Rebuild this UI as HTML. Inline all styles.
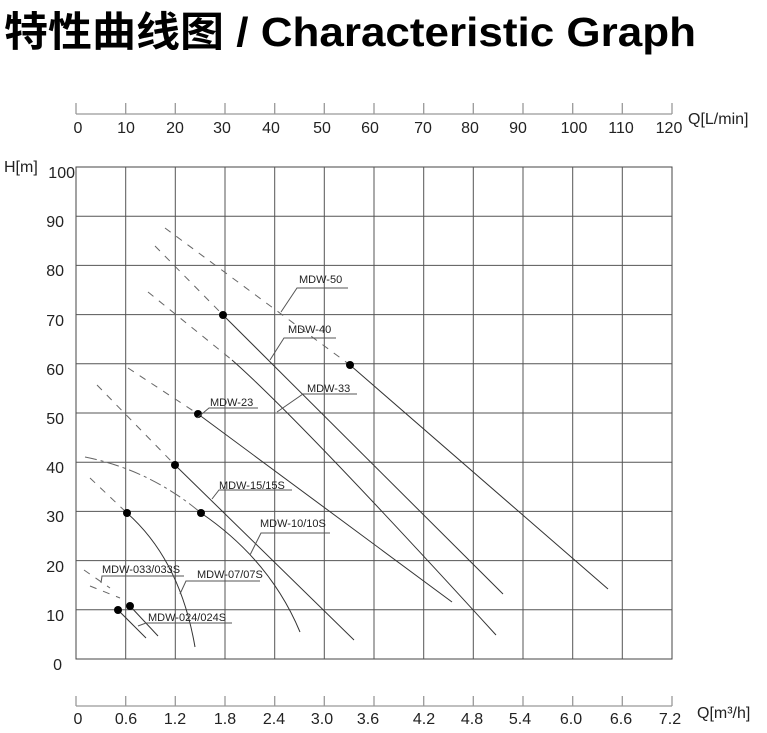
<!DOCTYPE html>
<html><head><meta charset="utf-8"><style>
body{margin:0;background:#fff;}
svg{display:block;}
</style></head><body>
<svg width="767" height="733" viewBox="0 0 767 733" xmlns="http://www.w3.org/2000/svg" font-family="'Liberation Sans','Noto Sans CJK SC',sans-serif">
<text x="4" y="46" font-size="41" font-weight="bold" fill="#000" textLength="692" lengthAdjust="spacingAndGlyphs">特性曲线图 / Characteristic Graph</text>
<g stroke="#aaa" stroke-width="1.5">
<line x1="76" y1="114" x2="672" y2="114"/>
<line x1="76" y1="706" x2="672" y2="706"/>
</g>
<g stroke="#999" stroke-width="1.3">
<line x1="76" y1="103" x2="76" y2="114"/><line x1="125.7" y1="103" x2="125.7" y2="114"/><line x1="175.3" y1="103" x2="175.3" y2="114"/><line x1="225" y1="103" x2="225" y2="114"/><line x1="274.7" y1="103" x2="274.7" y2="114"/><line x1="324.3" y1="103" x2="324.3" y2="114"/><line x1="374" y1="103" x2="374" y2="114"/><line x1="423.7" y1="103" x2="423.7" y2="114"/><line x1="473.3" y1="103" x2="473.3" y2="114"/><line x1="523" y1="103" x2="523" y2="114"/><line x1="572.7" y1="103" x2="572.7" y2="114"/><line x1="622.3" y1="103" x2="622.3" y2="114"/><line x1="672" y1="103" x2="672" y2="114"/>
<line x1="76" y1="696" x2="76" y2="706"/><line x1="125.7" y1="696" x2="125.7" y2="706"/><line x1="175.3" y1="696" x2="175.3" y2="706"/><line x1="225" y1="696" x2="225" y2="706"/><line x1="274.7" y1="696" x2="274.7" y2="706"/><line x1="324.3" y1="696" x2="324.3" y2="706"/><line x1="374" y1="696" x2="374" y2="706"/><line x1="423.7" y1="696" x2="423.7" y2="706"/><line x1="473.3" y1="696" x2="473.3" y2="706"/><line x1="523" y1="696" x2="523" y2="706"/><line x1="572.7" y1="696" x2="572.7" y2="706"/><line x1="622.3" y1="696" x2="622.3" y2="706"/><line x1="672" y1="696" x2="672" y2="706"/>
</g>
<g font-size="16" fill="#222" text-anchor="middle">
<text x="78" y="133">0</text><text x="126" y="133">10</text><text x="175" y="133">20</text><text x="222" y="133">30</text><text x="271" y="133">40</text><text x="322" y="133">50</text><text x="370" y="133">60</text><text x="423" y="133">70</text><text x="470" y="133">80</text><text x="518" y="133">90</text><text x="574" y="133">100</text><text x="621" y="133">110</text><text x="669" y="133">120</text>
<text x="78" y="724">0</text><text x="126" y="724">0.6</text><text x="175" y="724">1.2</text><text x="225" y="724">1.8</text><text x="274" y="724">2.4</text><text x="322" y="724">3.0</text><text x="368" y="724">3.6</text><text x="424" y="724">4.2</text><text x="472" y="724">4.8</text><text x="520" y="724">5.4</text><text x="571" y="724">6.0</text><text x="621" y="724">6.6</text><text x="670" y="724">7.2</text>
</g>
<text x="688" y="124" font-size="16" fill="#222">Q[L/min]</text>
<text x="697" y="718" font-size="16" fill="#222">Q[m³/h]</text>
<text x="4" y="172" font-size="16" fill="#222">H[m]</text>
<g font-size="16" fill="#222" text-anchor="end">
<text x="75" y="178">100</text><text x="64" y="227">90</text><text x="64" y="276">80</text><text x="64" y="326">70</text><text x="64" y="375">60</text><text x="64" y="424">50</text><text x="64" y="473">40</text><text x="64" y="522">30</text><text x="64" y="572">20</text><text x="64" y="621">10</text><text x="62" y="670">0</text>
</g>
<g stroke="#555" stroke-width="1" fill="none">
<rect x="76" y="167" width="596" height="492" stroke="#444"/>
<line x1="125.7" y1="167" x2="125.7" y2="659"/><line x1="175.3" y1="167" x2="175.3" y2="659"/><line x1="225" y1="167" x2="225" y2="659"/><line x1="274.7" y1="167" x2="274.7" y2="659"/><line x1="324.3" y1="167" x2="324.3" y2="659"/><line x1="374" y1="167" x2="374" y2="659"/><line x1="423.7" y1="167" x2="423.7" y2="659"/><line x1="473.3" y1="167" x2="473.3" y2="659"/><line x1="523" y1="167" x2="523" y2="659"/><line x1="572.7" y1="167" x2="572.7" y2="659"/><line x1="622.3" y1="167" x2="622.3" y2="659"/>
<line x1="76" y1="216.2" x2="672" y2="216.2"/><line x1="76" y1="265.4" x2="672" y2="265.4"/><line x1="76" y1="314.6" x2="672" y2="314.6"/><line x1="76" y1="363.8" x2="672" y2="363.8"/><line x1="76" y1="413" x2="672" y2="413"/><line x1="76" y1="462.2" x2="672" y2="462.2"/><line x1="76" y1="511.4" x2="672" y2="511.4"/><line x1="76" y1="560.6" x2="672" y2="560.6"/><line x1="76" y1="609.8" x2="672" y2="609.8"/>
</g>
<g stroke="#666" stroke-width="1" fill="none" stroke-dasharray="7,7">
<line x1="165" y1="228" x2="350" y2="365"/>
<line x1="155" y1="246" x2="223" y2="315"/>
<line x1="148" y1="292" x2="232" y2="360"/>
<line x1="128" y1="368" x2="198" y2="414"/>
<line x1="97" y1="385" x2="175" y2="465"/>
<path d="M85 457 Q150 470 201 513" stroke-dasharray="12,4,3,4"/>
<line x1="90" y1="478" x2="127" y2="513"/>
<line x1="84" y1="570" x2="110" y2="588"/>
<line x1="90" y1="586" x2="120" y2="598"/>
</g>
<g stroke="#333" stroke-width="1" fill="none">
<line x1="350" y1="365" x2="608" y2="589"/>
<line x1="223" y1="315" x2="503" y2="594"/>
<path d="M232 360 Q300 420 496 635"/>
<line x1="198" y1="414" x2="452" y2="602"/>
<line x1="175" y1="465" x2="354" y2="640"/>
<path d="M201 513 Q270 560 300 632"/>
<path d="M127 513 Q180 560 195 647"/>
<line x1="118" y1="610" x2="146" y2="638"/>
<line x1="130" y1="606" x2="158" y2="636"/>
</g>
<g fill="#000">
<circle cx="223" cy="315" r="4"/><circle cx="350" cy="365" r="4"/><circle cx="198" cy="414" r="4"/><circle cx="175" cy="465" r="4"/><circle cx="127" cy="513" r="4"/><circle cx="201" cy="513" r="4"/><circle cx="118" cy="610" r="4"/><circle cx="130" cy="606" r="4"/>
</g>
<g stroke="#555" stroke-width="1" fill="none">
<polyline points="281,312 297,288 348,288"/>
<polyline points="270,360 284,338 336,338"/>
<polyline points="277,412 303,394 357,394"/>
<polyline points="197,418 209,408 258,408"/>
<polyline points="212,499 219,490 292,490"/>
<polyline points="250,555 261,533 330,533"/>
<polyline points="180,594 186,581 260,581"/>
<polyline points="101,583 102,576 184,576"/>
<polyline points="138,626 146,623 232,623"/>
</g>
<g font-size="11" fill="#222">
<text x="299" y="283">MDW-50</text>
<text x="288" y="333">MDW-40</text>
<text x="307" y="392">MDW-33</text>
<text x="210" y="406">MDW-23</text>
<text x="219" y="489">MDW-15/15S</text>
<text x="260" y="527">MDW-10/10S</text>
<text x="197" y="578">MDW-07/07S</text>
<text x="102" y="573">MDW-033/033S</text>
<text x="148" y="621">MDW-024/024S</text>
</g>
</svg>
</body></html>
